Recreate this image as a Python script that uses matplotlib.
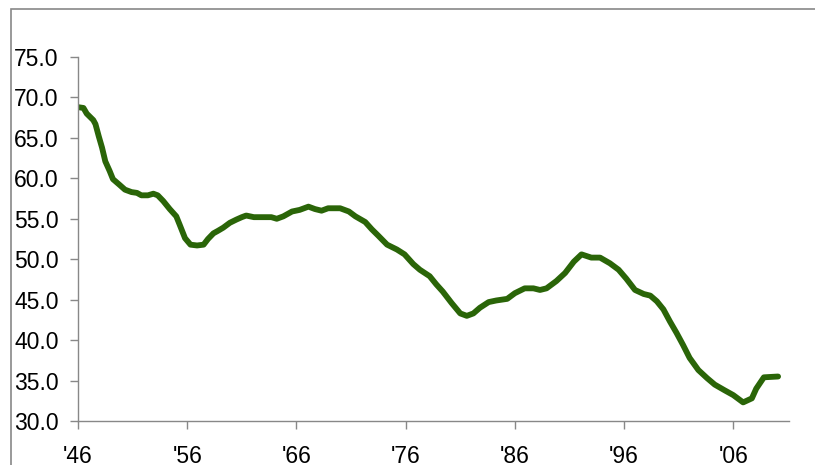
import matplotlib
matplotlib.use("Agg")
import matplotlib.pyplot as plt
from matplotlib.patches import Rectangle

plt.rcParams['font.family'] = ['Liberation Sans', 'DejaVu Sans']

# values
years = [1946.0, 1946.5, 1946.8, 1947.4, 1947.6, 1947.9, 1948.2, 1948.5, 1948.9, 1949.2,
         1949.8, 1950.3, 1950.9, 1951.4, 1951.8, 1952.4, 1952.9, 1953.3, 1953.8, 1954.4,
         1955.0, 1955.3, 1955.8, 1956.3, 1956.9, 1957.5, 1957.9, 1958.4, 1958.8, 1959.3,
         1959.9, 1960.5, 1961.0, 1961.4, 1962.1, 1963.7, 1964.2, 1964.8, 1965.6, 1966.3,
         1967.1, 1967.7, 1968.3, 1968.9, 1970.0, 1970.8, 1971.4, 1972.3, 1972.9, 1973.5,
         1974.3, 1975.2, 1975.9, 1976.7, 1977.3, 1978.2, 1978.8, 1979.4, 1980.2, 1981.0,
         1981.6, 1982.2, 1982.8, 1983.6, 1984.3, 1985.3, 1986.0, 1986.9, 1987.7, 1988.3,
         1988.9, 1989.8, 1990.6, 1991.4, 1992.1, 1993.0, 1993.8, 1994.7, 1995.5, 1996.2,
         1997.0, 1997.8, 1998.4, 1999.0, 1999.6, 2000.2, 2000.8, 2001.4, 2002.0, 2002.8,
         2003.6, 2004.3, 2005.2, 2006.0, 2006.9, 2007.7, 2008.1, 2008.8, 2010.1]
values = [68.8, 68.7, 68.0, 67.2, 66.7, 65.2, 63.8, 62.1, 60.9, 59.9,
          59.2, 58.6, 58.3, 58.2, 57.9, 57.9, 58.1, 57.9, 57.2, 56.2,
          55.3, 54.3, 52.6, 51.8, 51.7, 51.8, 52.5, 53.2, 53.5, 53.9,
          54.5, 54.9, 55.2, 55.4, 55.2, 55.2, 55.0, 55.3, 55.9, 56.1,
          56.5, 56.2, 56.0, 56.3, 56.3, 55.9, 55.3, 54.6, 53.7, 52.9,
          51.8, 51.2, 50.6, 49.4, 48.7, 47.9, 46.9, 46.0, 44.6, 43.3,
          43.0, 43.3, 44.0, 44.7, 44.9, 45.1, 45.8, 46.4, 46.4, 46.2,
          46.4, 47.3, 48.3, 49.7, 50.6, 50.2, 50.2, 49.5, 48.7, 47.6,
          46.2, 45.7, 45.5, 44.8, 43.8, 42.3, 40.9, 39.4, 37.8, 36.3,
          35.3, 34.5, 33.8, 33.2, 32.3, 32.8, 34.0, 35.4, 35.5]

tick_years = [1946, 1956, 1966, 1976, 1986, 1996, 2006]
tick_labels = ["'46", "'56", "'66", "'76", "'86", "'96", "'06"]
y_ticks = [30, 35, 40, 45, 50, 55, 60, 65, 70, 75]

fig = plt.figure(figsize=(8.15, 4.65), dpi=100)
ax = fig.add_axes([78 / 815, 44 / 465, 711 / 815, 364 / 465])

ax.plot(years, values, color='#2a6508', lw=4.2, solid_capstyle='round', solid_joinstyle='round')

ax.set_xlim(1946, 2011.1)
ax.set_ylim(30, 75)
ax.set_yticks(y_ticks)
ax.set_yticklabels(['%.1f' % v for v in y_ticks])
ax.set_xticks(tick_years)
ax.set_xticklabels(tick_labels)

for side in ['top', 'right']:
    ax.spines[side].set_visible(False)
for side in ['left', 'bottom']:
    ax.spines[side].set_color('#888888')
    ax.spines[side].set_linewidth(1.0)

ax.tick_params(axis='y', direction='out', length=6, width=1, color='#888888',
               labelsize=16.5, pad=8, labelcolor='black')
ax.tick_params(axis='x', direction='out', length=6, width=1, color='#888888',
               labelsize=16.5, pad=11, labelcolor='black')

# outer chart border (only top and left are inside the crop)
fig.patches.append(Rectangle((11 / 815, -0.2), 1.5, (465 - 9) / 465 + 0.2,
                             transform=fig.transFigure, fill=False,
                             edgecolor='#888888', lw=1.2))

fig.savefig('out.png', dpi=100)
